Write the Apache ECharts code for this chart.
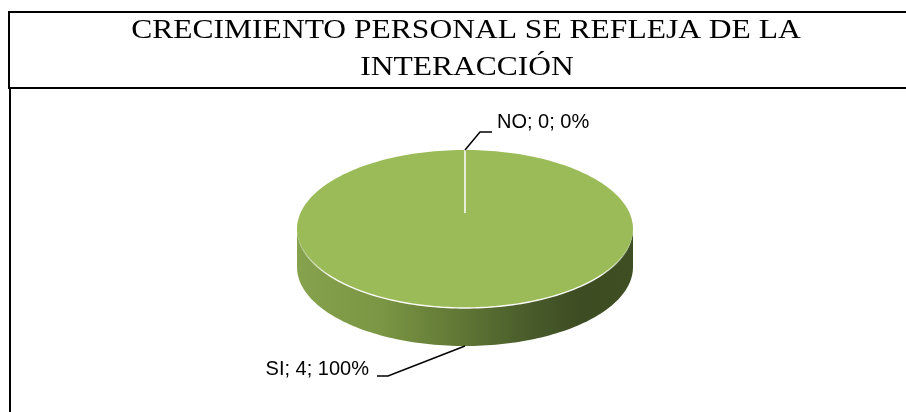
<!DOCTYPE html>
<html><head><meta charset="utf-8">
<script src="https://cdn.jsdelivr.net/npm/echarts@6.0.0/dist/echarts.min.js"></script>
<style>html,body{margin:0;padding:0;background:#fff}#c{width:906px;height:412px}</style>
</head><body><div id="c"></div>
<script>
// ---- data ----
const titleLines = ['CRECIMIENTO PERSONAL SE REFLEJA DE LA', 'INTERACCIÓN'];
const categories = ['NO', 'SI'];
const counts = [0, 4];

// ---- layout / style ----
const PIE = { cx: 465, cy: 229, rx: 168, ry: 79, depth: 38, hubDy: -16 };
const TOP_COLOR = '#9bbb59';
const SIDE_STOPS = [
  { offset: 0, color: '#86a24d' }, { offset: 0.25, color: '#7b9644' },
  { offset: 0.5, color: '#5e7534' }, { offset: 0.7, color: '#485a2a' },
  { offset: 0.85, color: '#3d4c22' }, { offset: 1, color: '#3f4f23' }
];
const labelLayout = [
  { dx1: 15, dy1: -18, dx2: 27, tdx: 32, tdy: -28, align: 'left' },
  { dx1: -77, dy1: 30, dx2: -88, tdx: -96, tdy: 23.5, align: 'right' }
];
const LABEL_FONT = '20px "Liberation Sans"';

const chart = echarts.init(document.getElementById('c'));

function pt(a, dy, rxExtra) {
  return [PIE.cx + (PIE.rx + (rxExtra || 0)) * Math.cos(a), PIE.cy + (dy || 0) + PIE.ry * Math.sin(a)];
}
function arc(a0, a1, dy, n) {
  const out = [];
  for (let k = 0; k <= n; k++) out.push(pt(a0 + (a1 - a0) * k / n, dy));
  return out;
}

function renderItem(params, api) {
  const i = params.dataIndex;
  const total = counts.reduce((s, x) => s + x, 0);
  let before = 0;
  for (let k = 0; k < i; k++) before += counts[k];
  const v = api.value(1);
  const a0 = -Math.PI / 2 + before / total * 2 * Math.PI;
  const a1 = a0 + v / total * 2 * Math.PI;
  const children = [];

  // side (front-visible part)
  for (let k = -1; k <= 1; k++) {
    const lo = Math.max(a0, 2 * Math.PI * k), hi = Math.min(a1, 2 * Math.PI * k + Math.PI);
    if (hi > lo) {
      const topArc = arc(lo, hi, 0, 120);
      const botArc = arc(hi, lo, PIE.depth, 120);
      children.push({
        type: 'polygon', z2: 1,
        shape: { points: topArc.concat(botArc) },
        style: { fill: { type: 'linear', x: PIE.cx - PIE.rx, y: 0, x2: PIE.cx + PIE.rx, y2: 0, global: true, colorStops: SIDE_STOPS } }
      });
      // bevel highlight along front edge of top face
      children.push({
        type: 'polyline', z2: 3,
        shape: { points: arc(lo, hi, 0, 120) },
        style: { fill: null, lineWidth: 1.4, stroke: { type: 'linear', x: PIE.cx - PIE.rx, y: 0, x2: PIE.cx + PIE.rx, y2: 0, global: true,
          colorStops: [ { offset: 0, color: 'rgba(255,255,255,0)' }, { offset: 0.1, color: 'rgba(255,255,255,0.95)' },
                        { offset: 0.9, color: 'rgba(255,255,255,0.95)' }, { offset: 1, color: 'rgba(255,255,255,0)' } ] } }
      });
    }
  }
  // top face
  if (v > 0) {
    const pts = [[PIE.cx, PIE.cy]].concat(arc(a0, a1, 0, 240));
    children.push({ type: 'polygon', z2: 2, shape: { points: pts }, style: { fill: TOP_COLOR } });
  }
  // slice separator (white border at slice start)
  const edge = pt(a0, 0);
  children.push({
    type: 'line', z2: 4,
    shape: { x1: PIE.cx, y1: PIE.cy + PIE.hubDy, x2: edge[0], y2: edge[1] },
    style: { stroke: '#ffffff', lineWidth: 1 }
  });
  // label with leader line
  const am = (a0 + a1) / 2;
  const front = Math.sin(am) > 0;
  const anchor = pt(am, front ? PIE.depth : 0);
  const L = labelLayout[i];
  children.push({
    type: 'polyline', z2: 5,
    shape: { points: [anchor, [anchor[0] + L.dx1, anchor[1] + L.dy1], [anchor[0] + L.dx2, anchor[1] + L.dy1]] },
    style: { fill: null, stroke: '#000', lineWidth: 1.5 }
  });
  const pct = Math.round(v / total * 100);
  children.push({
    type: 'text', z2: 5,
    style: {
      text: categories[i] + '; ' + v + '; ' + pct + '%',
      x: anchor[0] + L.tdx, y: anchor[1] + L.tdy,
      font: LABEL_FONT, fill: '#000', align: L.align, verticalAlign: 'middle'
    }
  });
  return { type: 'group', children: children };
}

chart.setOption({
  animation: false,
  backgroundColor: '#fff',
  graphic: [
    { type: 'line', shape: { x1: 8, y1: 12, x2: 906, y2: 12 }, style: { stroke: '#000', lineWidth: 2 } },
    { type: 'line', shape: { x1: 8, y1: 88, x2: 906, y2: 88 }, style: { stroke: '#000', lineWidth: 2 } },
    { type: 'line', shape: { x1: 9, y1: 11, x2: 9, y2: 88 }, style: { stroke: '#000', lineWidth: 2 } },
    { type: 'line', shape: { x1: 10, y1: 88, x2: 10, y2: 412 }, style: { stroke: '#000', lineWidth: 2 } },
    { type: 'text', x: 466, y: 31, scaleX: 1.168,
      style: { text: titleLines[0], font: '27px "Liberation Serif"', fill: '#000', textAlign: 'center', textVerticalAlign: 'middle', align: 'center', verticalAlign: 'middle' } },
    { type: 'text', x: 467, y: 68, scaleX: 1.168,
      style: { text: titleLines[1], font: '27px "Liberation Serif"', fill: '#000', textAlign: 'center', textVerticalAlign: 'middle', align: 'center', verticalAlign: 'middle' } }
  ],
  series: [{
    type: 'custom',
    coordinateSystem: 'none',
    renderItem: renderItem,
    data: categories.map((c, i) => ({ name: c, value: [i, counts[i]] }))
  }]
});
</script></body></html>
